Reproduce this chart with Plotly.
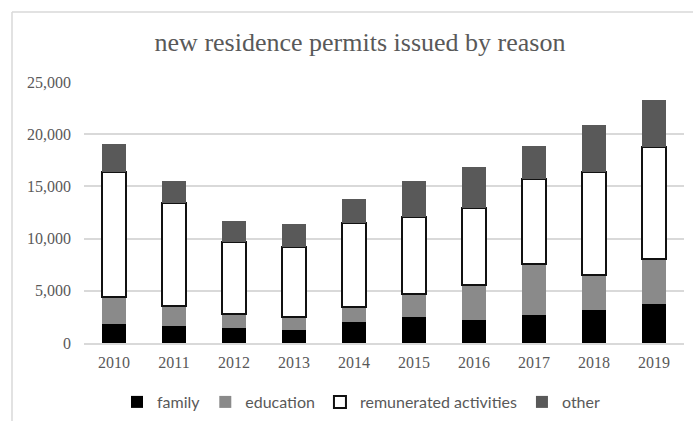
import plotly.graph_objects as go

years = ["2010", "2011", "2012", "2013", "2014", "2015", "2016", "2017", "2018", "2019"]
family = [1800, 1600, 1400, 1200, 2000, 2500, 2250, 2700, 3200, 3750]
education = [2650, 1950, 1400, 1300, 1450, 2200, 3300, 4900, 3350, 4300]
remunerated = [11900, 9900, 6900, 6700, 8000, 7350, 7400, 8150, 9850, 10750]
other = [2700, 2050, 1950, 2200, 2300, 3450, 3900, 3100, 4500, 4450]

serif = "Liberation Serif, DejaVu Serif, serif"
sans = "Lato, Open Sans, Liberation Sans, sans-serif"
grey_text = "#595959"
W, H = 693, 421

fig = go.Figure()
fig.add_trace(go.Bar(x=years, y=family, name="family",
                     marker=dict(color="#000000", line=dict(width=0))))
fig.add_trace(go.Bar(x=years, y=education, name="education",
                     marker=dict(color="#8a8a8a", line=dict(width=0))))
fig.add_trace(go.Bar(x=years, y=remunerated, name="remunerated activities",
                     marker=dict(color="#ffffff", line=dict(color="#111111", width=2))))
fig.add_trace(go.Bar(x=years, y=other, name="other",
                     marker=dict(color="#595959", line=dict(width=0))))

# light frame around the whole chart (left and top edges visible)
frame = dict(color="#d9d9d9", width=1.5)
fig.add_shape(type="line", xref="paper", yref="paper",
              x0=-0.12, x1=-0.12, y0=-0.35, y1=1.268, line=frame)
fig.add_shape(type="line", xref="paper", yref="paper",
              x0=-0.12, x1=1.1, y0=1.268, y1=1.268, line=frame)

fig.update_layout(
    width=W, height=H,
    margin=dict(l=84, r=9, t=82, b=78),
    paper_bgcolor="white", plot_bgcolor="white",
    barmode="stack", bargap=0.6,
    title=dict(text="new residence permits issued by reason",
               x=360 / W, xref="container", xanchor="center",
               y=1 - 42 / H, yref="container", yanchor="middle",
               font=dict(family=serif, size=26, color=grey_text)),
    yaxis=dict(range=[0, 25000], dtick=5000, tickformat=",d",
               showgrid=True, gridcolor="#d9d9d9", gridwidth=1.5,
               zeroline=False, showline=False, ticks="",
               tickfont=dict(family=serif, size=16, color=grey_text),
               ticklabelstandoff=12),
    xaxis=dict(showline=True, linecolor="#d9d9d9", linewidth=1.5, ticks="",
               tickfont=dict(family=serif, size=16, color=grey_text),
               ticklabelstandoff=4),
    legend=dict(orientation="h", xref="container", x=361 / W, xanchor="center",
                yref="container", y=1 - 402 / H, yanchor="middle",
                font=dict(family=sans, size=16, color=grey_text),
                traceorder="normal", itemwidth=30),
    showlegend=True,
)

fig.write_html("out.html")
